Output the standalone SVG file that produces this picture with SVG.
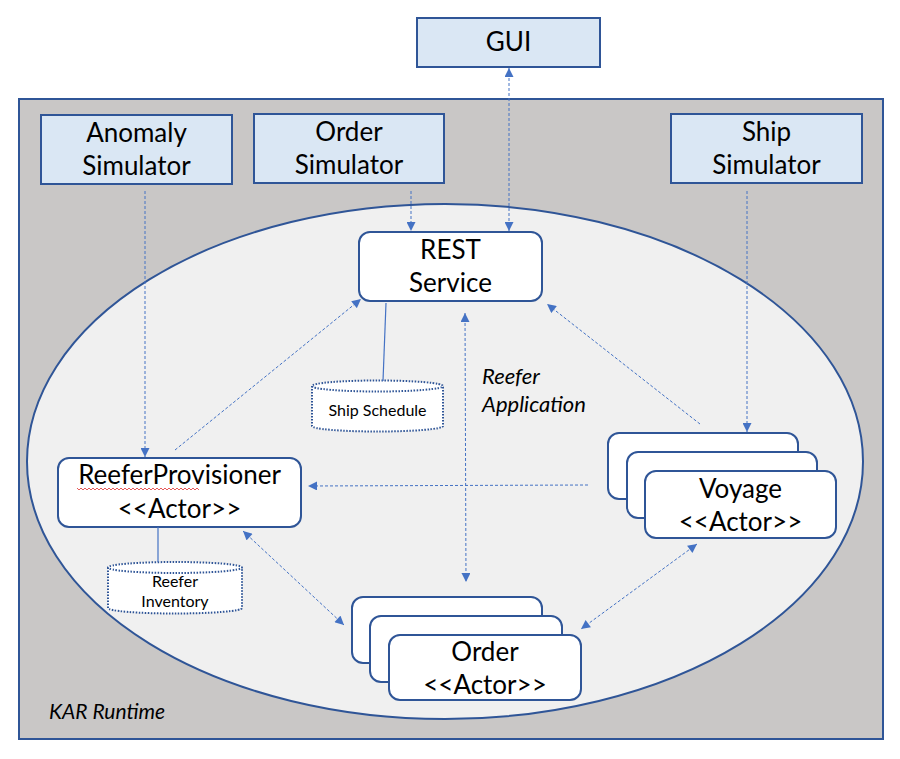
<svg xmlns="http://www.w3.org/2000/svg" width="900" height="759" viewBox="0 0 900 759">
<style>
.t{font-family:Lato,"Liberation Sans",sans-serif;fill:#000;text-anchor:middle}
.big{font-size:26px}
.it{font-style:italic;text-anchor:start}
.sim{fill:#DAE7F4;stroke:#2F5597;stroke-width:2}
.node{fill:#fff;stroke:#2F5597;stroke-width:2}
.db{fill:#fff;stroke:#2F5597;stroke-width:2;stroke-dasharray:1.5 1.5}
.c{fill:none;stroke:#4472C4;stroke-width:1;stroke-dasharray:3 2}
.s{fill:none;stroke:#4472C4;stroke-width:1.2}
</style>
<defs>
<marker id="a" viewBox="0 0 10 10" refX="10" refY="5" markerWidth="10" markerHeight="9" markerUnits="userSpaceOnUse" orient="auto-start-reverse">
<path d="M0,0 L10,5 L0,10 z" fill="#4472C4"/>
</marker>
</defs>
<rect width="900" height="759" fill="#fff"/>
<g id="kar-runtime">
<rect x="19" y="99" width="864" height="640" fill="#C9C7C6" stroke="#2F5597" stroke-width="2"/>
<text class="t it" x="49" y="719" font-size="21">KAR Runtime</text>
</g>
<g id="reefer-application">
<ellipse cx="445" cy="461.5" rx="418" ry="257.5" fill="#F0F0F0" stroke="#2F5597" stroke-width="2"/>
<text class="t it" x="482" y="384" font-size="22">Reefer</text>
<text class="t it" x="482" y="412" font-size="22">Application</text>
</g>
<g id="gui">
<rect class="sim" x="417" y="18" width="183" height="49"/>
<text class="t big" x="508.5" y="51">GUI</text>
</g>
<g id="anomaly-simulator">
<rect class="sim" x="41" y="115" width="191" height="69"/>
<text class="t big" x="136.5" y="142">Anomaly</text>
<text class="t big" x="136.5" y="175">Simulator</text>
</g>
<g id="order-simulator">
<rect class="sim" x="254" y="114" width="190" height="69"/>
<text class="t big" x="349" y="141">Order</text>
<text class="t big" x="349" y="174">Simulator</text>
</g>
<g id="ship-simulator">
<rect class="sim" x="671" y="114" width="191" height="69"/>
<text class="t big" x="766.5" y="141">Ship</text>
<text class="t big" x="766.5" y="174">Simulator</text>
</g>
<g id="rest-service">
<rect class="node" x="359" y="232" width="183" height="69" rx="11"/>
<text class="t big" x="450.5" y="259">REST</text>
<text class="t big" x="450.5" y="292">Service</text>
</g>
<g id="ship-schedule">
<path class="db" d="M312,386 L312,426 A65.5,5.5 0 0 0 443,426 L443,386 A65.5,5.5 0 0 0 312,386 A65.5,5.5 0 0 0 443,386"/>
<text class="t" x="377.5" y="416" font-size="16">Ship Schedule</text>
</g>
<g id="reefer-provisioner">
<rect class="node" x="58" y="458" width="243" height="69" rx="11"/>
<text class="t big" x="179.5" y="484">ReeferProvisioner</text>
<path d="M77,488 l2,2 2,-2 2,2 2,-2 2,2 2,-2 2,2 2,-2 2,2 2,-2 2,2 2,-2 2,2 2,-2 2,2 2,-2 2,2 2,-2 2,2 2,-2 2,2 2,-2 2,2 2,-2 2,2 2,-2 2,2 2,-2 2,2 2,-2 2,2 2,-2 2,2 2,-2 2,2 2,-2 2,2 2,-2 2,2 2,-2 2,2 2,-2 2,2 2,-2 2,2 2,-2 2,2 2,-2 2,2 2,-2 2,2 2,-2 2,2 2,-2 2,2 2,-2 2,2 2,-2 2,2 2,-2 2,2" fill="none" stroke="#E03030" stroke-width="0.8"/>
<text class="t big" x="179.5" y="518">&lt;&lt;Actor&gt;&gt;</text>
</g>
<g id="reefer-inventory">
<path class="db" d="M108,567.5 L108,608 A67,5.5 0 0 0 242,608 L242,567.5 A67,5.5 0 0 0 108,567.5 A67,5.5 0 0 0 242,567.5"/>
<text class="t" x="175" y="587" font-size="16">Reefer</text>
<text class="t" x="175" y="607" font-size="16">Inventory</text>
</g>
<g id="voyage-actor">
<rect class="node" x="608" y="433" width="190" height="66" rx="11"/>
<rect class="node" x="627" y="452" width="190" height="66" rx="11"/>
<rect class="node" x="645" y="471" width="191" height="67" rx="11"/>
<text class="t big" x="740.5" y="498">Voyage</text>
<text class="t big" x="740.5" y="531">&lt;&lt;Actor&gt;&gt;</text>
</g>
<g id="order-actor">
<rect class="node" x="352" y="597" width="190" height="66" rx="11"/>
<rect class="node" x="370" y="616" width="192" height="66" rx="11"/>
<rect class="node" x="389" y="635" width="192" height="65" rx="11"/>
<text class="t big" x="485" y="661">Order</text>
<text class="t big" x="485" y="694">&lt;&lt;Actor&gt;&gt;</text>
</g>
<g id="connectors">
<line class="s" x1="386" y1="303" x2="383" y2="381"/>
<line class="s" x1="158" y1="527" x2="158" y2="562"/>
<line class="c" x1="509" y1="68" x2="509" y2="231" marker-start="url(#a)" marker-end="url(#a)"/>
<line class="c" x1="411" y1="191" x2="411" y2="231" marker-end="url(#a)"/>
<line class="c" x1="145" y1="191" x2="145" y2="457" marker-end="url(#a)"/>
<line class="c" x1="747" y1="191" x2="747" y2="432" marker-end="url(#a)"/>
<line class="c" x1="175" y1="450" x2="361" y2="299" marker-end="url(#a)"/>
<line class="c" x1="700" y1="424" x2="547" y2="304" marker-end="url(#a)"/>
<line class="c" x1="588" y1="485" x2="308" y2="486" marker-end="url(#a)"/>
<line class="c" x1="465" y1="313" x2="466" y2="582" marker-start="url(#a)" marker-end="url(#a)"/>
<line class="c" x1="243" y1="531" x2="344" y2="625" marker-start="url(#a)" marker-end="url(#a)"/>
<line class="c" x1="697" y1="544" x2="581" y2="629" marker-start="url(#a)" marker-end="url(#a)"/>
</g>
</svg>
